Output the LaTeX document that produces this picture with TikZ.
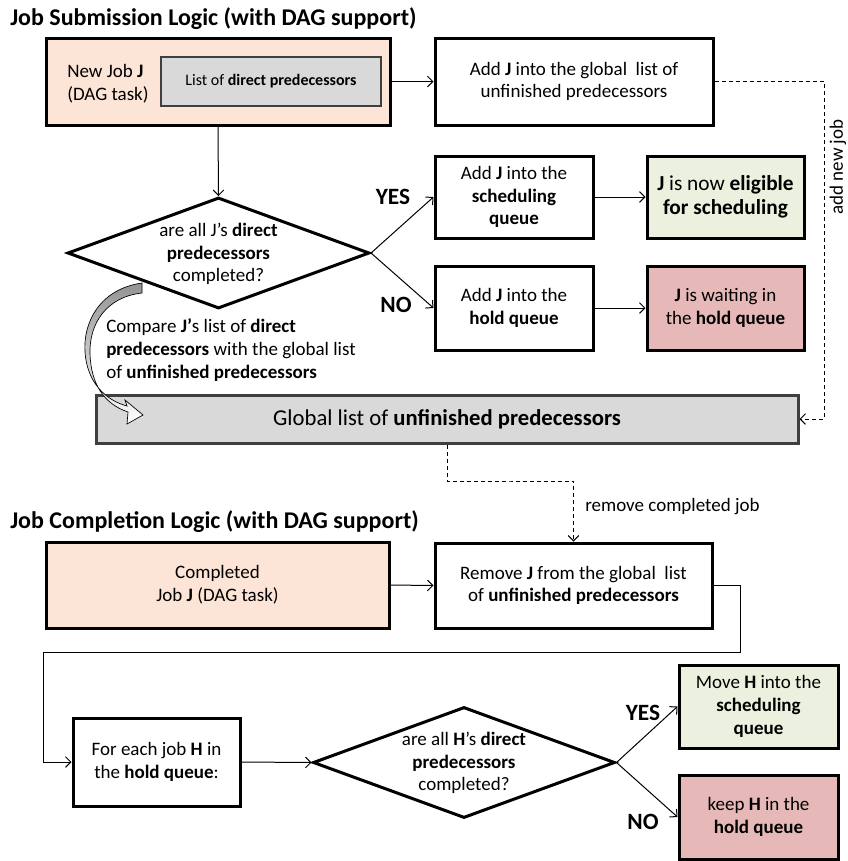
\documentclass[tikz,border=0pt]{standalone}
\usepackage{fontspec}
\setmainfont{Carlito}
\usetikzlibrary{arrows.meta,shapes.geometric}
\definecolor{peach}{HTML}{FCE4D6}
\definecolor{lgreen}{HTML}{EBF1DE}
\definecolor{lred}{HTML}{E6B9B8}
\definecolor{lgray}{HTML}{D9D9D9}
\definecolor{dgray}{HTML}{3F3F3F}
\newcommand{\fTitle}{\fontsize{18pt}{22pt}\selectfont\bfseries}
\newcommand{\fBody}{\fontsize{14.25pt}{17pt}\selectfont}
\newcommand{\fBodyL}{\fontsize{16pt}{18pt}\selectfont}
\newcommand{\fSmall}{\fontsize{12pt}{14pt}\selectfont}
\newcommand{\fBig}{\fontsize{17pt}{20pt}\selectfont}
\newcommand{\fYN}{\fontsize{17.5pt}{20pt}\selectfont\bfseries}
\begin{document}
\begin{tikzpicture}[x=0.75pt,y=-0.75pt,
  box/.style={draw=black, line width=2.25pt, align=center, inner sep=0pt, font=\fBody},
  dmd/.style={diamond, draw=black, line width=2.25pt, inner sep=0pt},
  conn/.style={line width=0.75pt, -{Straight Barb[length=4pt,width=8pt]}},
  dconn/.style={line width=0.75pt, dash pattern=on 3pt off 2.25pt, -{Straight Barb[length=4pt,width=8pt]}},
  lbl/.style={font=\fBody, inner sep=0pt},
  yn/.style={font=\fYN, inner sep=0pt}]
\useasboundingbox (0,0) rectangle (847,861);

% ---------- Titles ----------
\node[anchor=base west, font=\fTitle, inner sep=0pt] (t1) at (10,25) {Job Submission Logic (with DAG support)};
\node[anchor=base west, font=\fTitle, inner sep=0pt] (t2) at (10,528) {Job Completion Logic (with DAG support)};

% ---------- Submission ----------
\node[box, fill=peach, minimum width=344*0.75pt, minimum height=87*0.75pt] (newjob) at (218,81.5) {};
\node[lbl, anchor=west, align=left] (newjobtxt) at (67,84) {New Job \textbf{J}\\(DAG task)};
\node[draw=dgray, line width=1.5pt, fill=lgray, minimum width=220*0.75pt, minimum height=49*0.75pt, inner sep=0pt, font=\fSmall] (plist) at (271,81.5) {List of \textbf{direct predecessors}};

\node[box, minimum width=278*0.75pt, minimum height=87*0.75pt] (addglobal) at (574,81.5) {Add \textbf{J} into the global\ \ list of\\unfinished predecessors};

\node[dmd, minimum width=302*0.75pt, minimum height=111*0.75pt] (d1) at (218.5,253) {};
\node[lbl, align=center] (d1txt) at (218.5,254) {are all J’s \textbf{direct}\\\textbf{predecessors}\\completed?};

\node[box, minimum width=158*0.75pt, minimum height=82*0.75pt] (addsched) at (514,197) {Add \textbf{J} into the\\\textbf{scheduling}\\\textbf{queue}};
\node[box, fill=lgreen, minimum width=157*0.75pt, minimum height=82*0.75pt, font=\fBodyL] (elig) at (725.5,197) {\textbf{J} is now \textbf{eligible}\\\textbf{for scheduling}};
\node[box, minimum width=158*0.75pt, minimum height=84*0.75pt] (addhold) at (514,308) {Add \textbf{J} into the\\\textbf{hold queue}};
\node[box, fill=lred, minimum width=157*0.75pt, minimum height=84*0.75pt] (wait) at (725.5,308) {\textbf{J} is waiting in\\the \textbf{hold queue}};

\node[draw=dgray, line width=2.25pt, fill=lgray, minimum width=702*0.75pt, minimum height=48*0.75pt, inner sep=0pt, font=\fBig] (global) at (447,419) {Global list of \textbf{unfinished predecessors}};

\node[yn] (yes1) at (393,197) {YES};
\node[yn] (no1) at (396,305) {NO};

\draw[conn] (newjob.south) -- (d1.north);
\draw[conn] (newjob.east) -- (addglobal.west);
\draw[conn] (d1.east) -- (addsched.west);
\draw[conn] (d1.east) -- (addhold.west);
\draw[conn] (addsched.east) -- (elig.west);
\draw[conn] (addhold.east) -- (wait.west);

\coordinate (c1) at (824,82);
\draw[dconn] (addglobal.east) -- (addglobal.east -| c1) |- (global.east);
\node[lbl, rotate=90] (addnew) at (838,167) {add new job};

% compare text and curved arrow
\node[lbl, anchor=west, align=left] (cmp) at (106,350) {Compare \textbf{J’}s list of \textbf{direct}\\\textbf{predecessors} with the global list\\of \textbf{unfinished predecessors}};
\shade[top color=gray!85, bottom color=white, draw=black, line width=0.5pt]
  (142,283) .. controls (100,289) and (83,322) .. (85,352)
  .. controls (87,382) and (105,400) .. (127,406)
  -- (125,400) -- (143,415) -- (127,424) -- (128,412)
  .. controls (104,404) and (91,384) .. (90,354)
  .. controls (89,324) and (106,297) .. (142,293) -- cycle;

% ---------- Completion ----------
\node[box, fill=peach, minimum width=343*0.75pt, minimum height=86*0.75pt] (compl) at (217.5,585) {Completed\\Job \textbf{J} (DAG task)};
\node[box, minimum width=277*0.75pt, minimum height=85*0.75pt] (remove) at (573.5,585.5) {Remove \textbf{J} from the global\ \ list\\of \textbf{unfinished predecessors}};

\coordinate (c2) at (510,481);
\draw[dconn] (global.south) |- (c2) -| (remove.north);
\node[lbl, anchor=west] (remlbl) at (585,507) {remove completed job};

\node[box, minimum width=167*0.75pt, minimum height=88*0.75pt] (foreach) at (156.5,762) {For each job \textbf{H} in\\the \textbf{hold queue}:};
\node[dmd, minimum width=302*0.75pt, minimum height=111*0.75pt] (d2) at (464,762.5) {};
\node[lbl, align=center] (d2txt) at (464,763) {are all \textbf{H}’s \textbf{direct}\\\textbf{predecessors}\\completed?};

\node[box, fill=lgreen, minimum width=159*0.75pt, minimum height=83*0.75pt] (moveh) at (758.5,706.5) {Move \textbf{H} into the\\\textbf{scheduling}\\\textbf{queue}};
\node[box, fill=lred, minimum width=159*0.75pt, minimum height=84*0.75pt] (keeph) at (758.5,817) {keep \textbf{H} in the\\\textbf{hold queue}};

\node[yn] (yes2) at (643,713) {YES};
\node[yn] (no2) at (643,822) {NO};

\draw[conn] (compl.east) -- (remove.west);
\coordinate (r1) at (740,652);
\coordinate (r2) at (43,652);
\draw[conn] (remove.east) -| (r1) -- (r2) |- (foreach.west);
\draw[conn] (foreach.east) -- (d2.west);
\draw[conn] (d2.east) -- (moveh.west);
\draw[conn] (d2.east) -- (keeph.west);
\end{tikzpicture}
\end{document}
